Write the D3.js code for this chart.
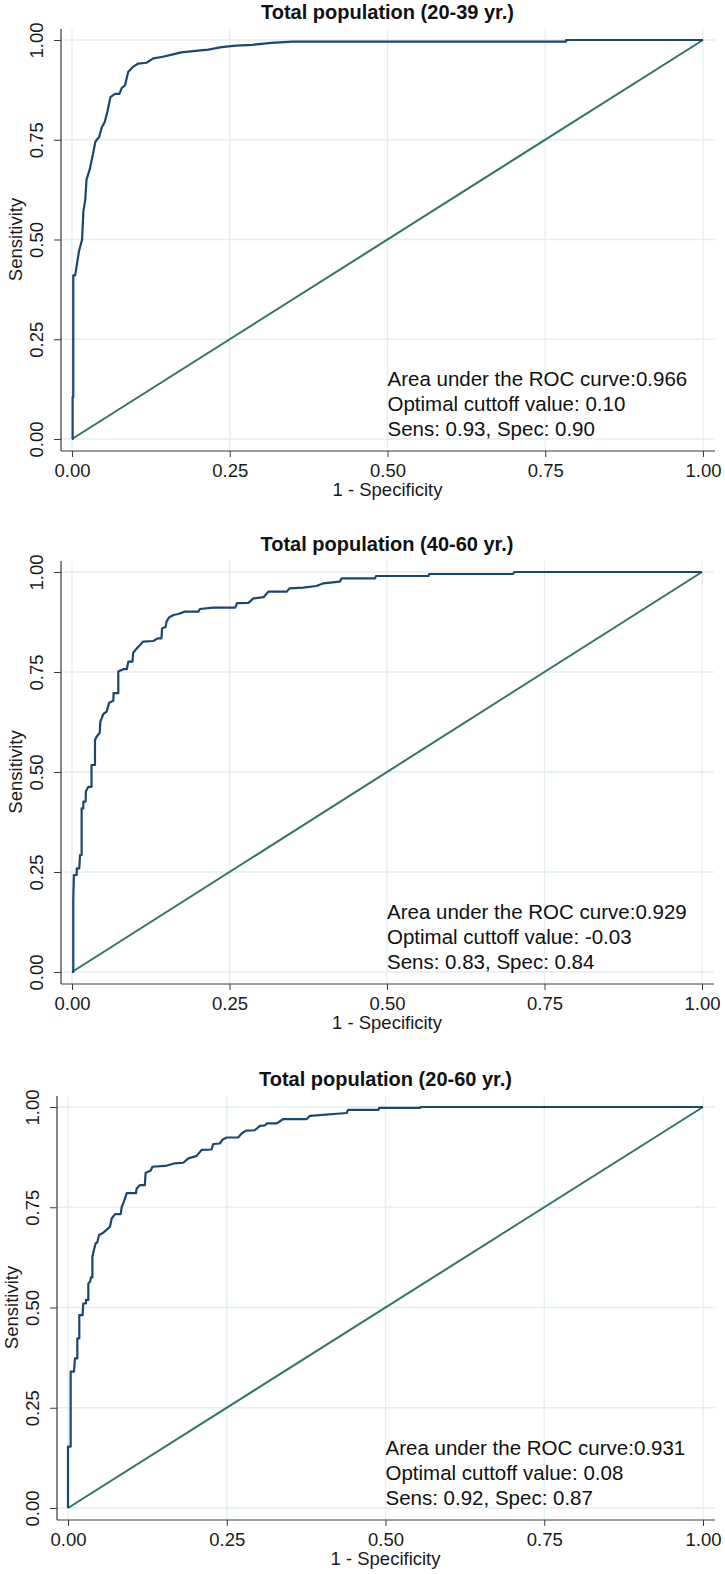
<!DOCTYPE html>
<html>
<head>
<meta charset="utf-8">
<script src="https://cdn.jsdelivr.net/npm/d3@7"></script>
<style>
  html, body { margin: 0; padding: 0; background: #ffffff; }
  svg { display: block; }
  text { font-family: "Liberation Sans", Arial, sans-serif; }
</style>
</head>
<body>
<script>
// ---------- data ----------
const panelTitles = ["Total population (20-39 yr.)", "Total population (40-60 yr.)", "Total population (20-60 yr.)"];
const aucLines = ["Area under the ROC curve:0.966", "Area under the ROC curve:0.929", "Area under the ROC curve:0.931"];
const cutoffLines = ["Optimal cuttoff value: 0.10", "Optimal cuttoff value: -0.03", "Optimal cuttoff value: 0.08"];
const sensSpecLines = ["Sens: 0.93, Spec: 0.90", "Sens: 0.83, Spec: 0.84", "Sens: 0.92, Spec: 0.87"];
const xTicks = [0, 0.25, 0.5, 0.75, 1];
const yTicks = [0, 0.25, 0.5, 0.75, 1];
const xTitle = "1 - Specificity";
const yTitle = "Sensitivity";

const fpr1 = [0, 0.001, 0.001, 0.002, 0.002, 0.005, 0.011, 0.016, 0.018, 0.021, 0.023, 0.028, 0.034, 0.037, 0.043, 0.047, 0.052, 0.056, 0.061, 0.068, 0.075, 0.079, 0.084, 0.089, 0.096, 0.105, 0.118, 0.129, 0.144, 0.160, 0.173, 0.192, 0.216, 0.237, 0.260, 0.286, 0.316, 0.350, 0.783, 0.783, 1];
const tpr1 = [0, 0, 0.105, 0.105, 0.41, 0.41, 0.47, 0.50, 0.57, 0.60, 0.65, 0.675, 0.72, 0.745, 0.757, 0.78, 0.795, 0.82, 0.857, 0.865, 0.865, 0.88, 0.886, 0.92, 0.932, 0.941, 0.943, 0.954, 0.958, 0.964, 0.969, 0.972, 0.976, 0.982, 0.986, 0.988, 0.993, 0.996, 0.996, 1, 1];

const fpr2 = [0, 0.002, 0.002, 0.003, 0.0075, 0.0075, 0.0116, 0.0127, 0.0153, 0.0153, 0.018, 0.018, 0.0217, 0.022, 0.026, 0.031, 0.031, 0.0365, 0.0365, 0.039, 0.044, 0.045, 0.0497, 0.055, 0.059, 0.0656, 0.066, 0.0735, 0.0735, 0.0814, 0.087, 0.0894, 0.096, 0.097, 0.1016, 0.108, 0.113, 0.129, 0.136, 0.142, 0.143, 0.1487, 0.150, 0.1545, 0.161, 0.1687, 0.179, 0.2005, 0.203, 0.224, 0.259, 0.262, 0.280, 0.288, 0.304, 0.312, 0.341, 0.345, 0.367, 0.388, 0.399, 0.425, 0.428, 0.481, 0.4825, 0.566, 0.567, 0.700, 0.702, 1];
const tpr2 = [0, 0, 0.18, 0.2425, 0.2425, 0.259, 0.259, 0.2925, 0.2925, 0.409, 0.409, 0.426, 0.426, 0.451, 0.463, 0.463, 0.5175, 0.5175, 0.58, 0.588, 0.598, 0.626, 0.645, 0.651, 0.673, 0.678, 0.697, 0.697, 0.751, 0.757, 0.757, 0.776, 0.776, 0.797, 0.807, 0.8175, 0.826, 0.8275, 0.834, 0.834, 0.859, 0.863, 0.876, 0.887, 0.8925, 0.895, 0.901, 0.901, 0.9075, 0.911, 0.911, 0.922, 0.923, 0.934, 0.937, 0.951, 0.951, 0.959, 0.961, 0.965, 0.9717, 0.976, 0.984, 0.984, 0.99, 0.99, 0.995, 0.995, 1, 1];

const fpr3 = [0, 0, 0.0042, 0.0042, 0.0094, 0.011, 0.0147, 0.0147, 0.0178, 0.0178, 0.023, 0.024, 0.0283, 0.0283, 0.032, 0.032, 0.035, 0.036, 0.0384, 0.0384, 0.0414, 0.0436, 0.046, 0.049, 0.0556, 0.066, 0.0688, 0.074, 0.083, 0.0846, 0.088, 0.0924, 0.107, 0.1082, 0.113, 0.121, 0.1223, 0.13, 0.133, 0.153, 0.1685, 0.1816, 0.1895, 0.2027, 0.2105, 0.226, 0.2288, 0.239, 0.2436, 0.25, 0.268, 0.2735, 0.2803, 0.294, 0.3024, 0.31, 0.313, 0.3287, 0.339, 0.376, 0.381, 0.439, 0.441, 0.489, 0.49, 0.554, 0.556, 1];
const tpr3 = [0, 0.153, 0.153, 0.34, 0.34, 0.373, 0.373, 0.423, 0.423, 0.481, 0.481, 0.51, 0.51, 0.519, 0.519, 0.56, 0.565, 0.575, 0.575, 0.627, 0.647, 0.66, 0.662, 0.681, 0.6866, 0.701, 0.722, 0.733, 0.733, 0.751, 0.764, 0.785, 0.785, 0.797, 0.805, 0.805, 0.836, 0.841, 0.851, 0.853, 0.8596, 0.861, 0.872, 0.878, 0.893, 0.894, 0.9077, 0.909, 0.919, 0.924, 0.924, 0.934, 0.941, 0.942, 0.953, 0.954, 0.959, 0.959, 0.97, 0.97, 0.978, 0.985, 0.993, 0.993, 0.998, 0.998, 1, 1];

const fprs = [fpr1, fpr2, fpr3];
const tprs = [tpr1, tpr2, tpr3];
const refLine = [0, 1];

// ---------- layout ----------
const W = 725, H = 1574;
const layout = [
  { x0: 72, x1: 703, y0: 439, y1: 40 },
  { x0: 72, x1: 702, y0: 972, y1: 572 },
  { x0: 68, x1: 703, y0: 1508, y1: 1107 }
];
const curveColor = "#1a476f";
const diagColor = "#2f7567";
const gridColor = "#e3edf2";
const axisColor = "#3a3a3a";

const svg = d3.select("body").append("svg").attr("width", W).attr("height", H);

layout.forEach((L, i) => {
  const x = d3.scaleLinear().domain([0, 1]).range([L.x0, L.x1]);
  const y = d3.scaleLinear().domain([0, 1]).range([L.y0, L.y1]);
  const left = L.x0 - 11, right = L.x1 + 12, top = L.y1 - 11, bottom = L.y0 + 12;
  const g = svg.append("g");

  // grid
  g.append("g").selectAll("line.h").data(yTicks).join("line")
    .attr("x1", left).attr("x2", right).attr("y1", d => y(d)).attr("y2", d => y(d))
    .attr("stroke", gridColor).attr("stroke-width", 1.3);
  g.append("g").selectAll("line.v").data(xTicks).join("line")
    .attr("y1", top).attr("y2", bottom).attr("x1", d => x(d)).attr("x2", d => x(d))
    .attr("stroke", gridColor).attr("stroke-width", 1.3);

  // axes
  const xAxis = g.append("g").attr("transform", `translate(0,${bottom})`)
    .call(d3.axisBottom(x).tickValues(xTicks).tickFormat(d3.format(".2f")).tickSize(6).tickSizeOuter(0));
  xAxis.select(".domain").remove();
  xAxis.selectAll(".tick line").attr("stroke", axisColor);
  xAxis.selectAll(".tick text").attr("y", 26).attr("dy", 0)
    .attr("font-size", 18.5).attr("fill", "#1a1a1a")
    .style("font-family", "'Liberation Sans', Arial, sans-serif");

  const yAxis = g.append("g").attr("transform", `translate(${left},0)`)
    .call(d3.axisLeft(y).tickValues(yTicks).tickFormat(d3.format(".2f")).tickSize(7).tickSizeOuter(0));
  yAxis.select(".domain").remove();
  yAxis.selectAll(".tick line").attr("stroke", axisColor);
  yAxis.selectAll(".tick text").attr("x", 0).attr("y", 0).attr("dy", 0)
    .attr("transform", "translate(-18,0) rotate(-90)")
    .attr("text-anchor", "middle")
    .attr("font-size", 18.5).attr("fill", "#1a1a1a")
    .style("font-family", "'Liberation Sans', Arial, sans-serif");

  g.append("line").attr("x1", left).attr("x2", left).attr("y1", top).attr("y2", bottom)
    .attr("stroke", axisColor).attr("stroke-width", 1.2);
  g.append("line").attr("x1", left).attr("x2", right).attr("y1", bottom).attr("y2", bottom)
    .attr("stroke", axisColor).attr("stroke-width", 1.2);

  // reference diagonal
  g.append("path").datum(refLine)
    .attr("d", d3.line().x(d => x(d)).y(d => y(d)))
    .attr("fill", "none").attr("stroke", diagColor).attr("stroke-width", 2);

  // ROC curve
  const pts = fprs[i].map((f, k) => [f, tprs[i][k]]);
  g.append("path").datum(pts)
    .attr("d", d3.line().x(d => x(d[0])).y(d => y(d[1])))
    .attr("fill", "none").attr("stroke", curveColor).attr("stroke-width", 2.2)
    .attr("stroke-linejoin", "round");

  // title
  g.append("text").attr("x", x(0.5)).attr("y", y(1) - 21)
    .attr("text-anchor", "middle").attr("font-size", 20).attr("font-weight", "bold")
    .attr("fill", "#111").text(panelTitles[i]);

  // axis titles
  g.append("text").attr("x", x(0.5)).attr("y", L.y0 + 57)
    .attr("text-anchor", "middle").attr("font-size", 18.5).attr("fill", "#1a1a1a").text(xTitle);
  g.append("text").attr("transform", `translate(${left - 39.5},${y(0.5)}) rotate(-90)`)
    .attr("text-anchor", "middle").attr("font-size", 18.5).attr("fill", "#1a1a1a").text(yTitle);

  // annotation
  const ann = [aucLines[i], cutoffLines[i], sensSpecLines[i]];
  g.append("g").selectAll("text").data(ann).join("text")
    .attr("x", x(0.5)).attr("y", (d, k) => y(0) - 3 - 25 * (2 - k))
    .attr("font-size", 20.5).attr("fill", "#111").text(d => d);
});
</script>
</body>
</html>
